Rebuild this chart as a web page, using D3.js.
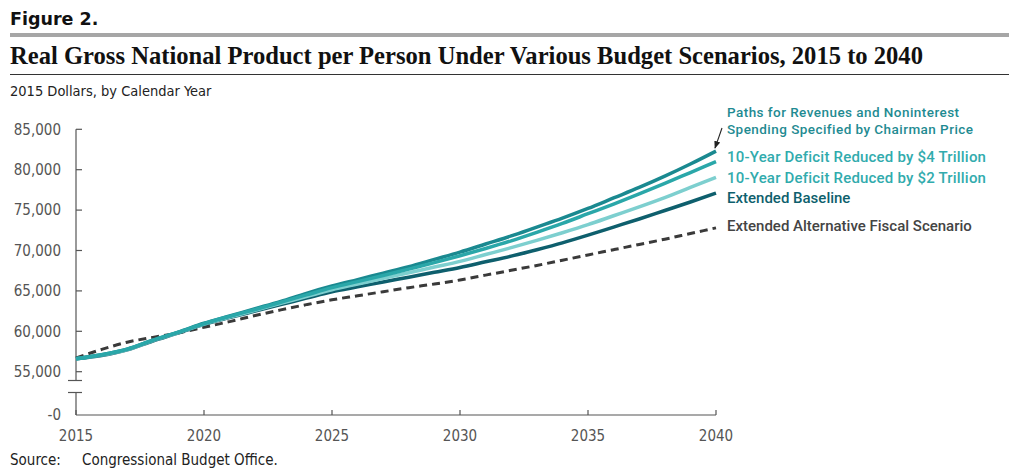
<!DOCTYPE html>
<html>
<head>
<meta charset="utf-8">
<script src="https://cdnjs.cloudflare.com/ajax/libs/d3/7.8.5/d3.min.js"></script>
<style>
  html, body { margin: 0; padding: 0; background: #fff; }
  svg { display: block; }
</style>
</head>
<body>
<svg id="chart" width="1024" height="471"></svg>
<script>
// ---- data ----
const years = d3.range(2015, 2041);
const priceSeries =    [56600,57100,57800,58900,59900,61000,61900,62800,63700,64700,65600,66400,67200,68000,68900,69800,70800,71800,72900,74000,75200,76500,77800,79200,80700,82300];
const cut4Series =     [56600,57100,57800,58900,59900,60950,61850,62700,63600,64500,65400,66150,66900,67700,68500,69350,70250,71200,72250,73350,74550,75750,77000,78300,79650,81000];
const cut2Series =     [56600,57050,57750,58850,59850,60900,61750,62600,63450,64300,65150,65850,66550,67250,67950,68650,69500,70350,71250,72200,73200,74300,75400,76550,77800,79050];
const baselineSeries = [56600,57000,57700,58800,59800,60850,61700,62500,63300,64100,64900,65500,66100,66700,67300,67900,68600,69300,70100,70950,71900,72900,73900,74950,76000,77100];
const altSeries =      [56700,57750,58650,59250,59800,60500,61200,61950,62650,63300,63900,64400,64900,65400,65850,66350,66950,67550,68150,68800,69450,70100,70750,71400,72100,72800];
const yTicks = [55000, 60000, 65000, 70000, 75000, 80000, 85000];
const xTicks = [2015, 2020, 2025, 2030, 2035, 2040];
const labelTexts = {
  price: ["Paths for Revenues and Noninterest", "Spending Specified by Chairman Price"],
  cut4: "10-Year Deficit Reduced by $4 Trillion",
  cut2: "10-Year Deficit Reduced by $2 Trillion",
  baseline: "Extended Baseline",
  alt: "Extended Alternative Fiscal Scenario"
};

// ---- layout ----
const svg = d3.select("#chart");
const axisFont = "'Liberation Sans Narrow', 'DejaVu Sans Condensed', 'Liberation Sans', sans-serif";
const x = d3.scaleLinear().domain([2015, 2040]).range([76, 716]);
const y = d3.scaleLinear().domain([55000, 85000]).range([371.7, 129.3]);
const yBottom = 415;

// Header
svg.append("text").attr("x", 10).attr("y", 25)
  .attr("font-family", "'DejaVu Sans', sans-serif").attr("font-weight", 900)
  .attr("font-size", 17.5).attr("fill", "#111").text("Figure 2.");
svg.append("rect").attr("x", 10).attr("y", 33).attr("width", 999).attr("height", 4).attr("fill", "#a6a6a6");
svg.append("text").attr("x", 10).attr("y", 64)
  .attr("font-family", "'Liberation Serif', 'Times New Roman', serif").attr("font-weight", "bold")
  .attr("font-size", 24.6).attr("fill", "#111")
  .text("Real Gross National Product per Person Under Various Budget Scenarios, 2015 to 2040");
svg.append("line").attr("x1", 10).attr("x2", 1009).attr("y1", 74.5).attr("y2", 74.5)
  .attr("stroke", "#333").attr("stroke-width", 1);
svg.append("text").attr("x", 10).attr("y", 96)
  .attr("font-family", axisFont).attr("font-size", 14.5).attr("fill", "#222")
  .text("2015 Dollars, by Calendar Year");

// Y axis (with break)
const gy = svg.append("g");
gy.append("line").attr("x1", 76).attr("x2", 76).attr("y1", y(85000)).attr("y2", 380.5)
  .attr("stroke", "#555").attr("stroke-width", 1.2);
gy.append("line").attr("x1", 76).attr("x2", 76).attr("y1", 392.5).attr("y2", yBottom)
  .attr("stroke", "#555").attr("stroke-width", 1.2);
[380.5, 392.5].forEach(v => gy.append("line").attr("x1", 68).attr("x2", 82).attr("y1", v).attr("y2", v)
  .attr("stroke", "#555").attr("stroke-width", 1.2));
gy.selectAll(".yt").data(yTicks).enter().append("line")
  .attr("x1", 76).attr("x2", 82).attr("y1", d => y(d)).attr("y2", d => y(d))
  .attr("stroke", "#555").attr("stroke-width", 1.2);
gy.selectAll(".yl").data(yTicks).enter().append("text")
  .attr("x", 61).attr("y", d => y(d)).attr("dy", "0.35em").attr("text-anchor", "end")
  .attr("font-family", axisFont).attr("font-size", 15).attr("fill", "#555")
  .text(d => d3.format(",")(d));
gy.append("text").attr("x", 61).attr("y", yBottom).attr("dy", "0.35em").attr("text-anchor", "end")
  .attr("font-family", axisFont).attr("font-size", 15).attr("fill", "#555").text("-0");

// X axis
const gx = svg.append("g");
gx.append("line").attr("x1", 76).attr("x2", 716).attr("y1", yBottom).attr("y2", yBottom)
  .attr("stroke", "#555").attr("stroke-width", 1.2);
gx.selectAll(".xt").data(xTicks).enter().append("line")
  .attr("x1", d => x(d)).attr("x2", d => x(d)).attr("y1", yBottom).attr("y2", yBottom - 5)
  .attr("stroke", "#555").attr("stroke-width", 1.2);
gx.selectAll(".xl").data(xTicks).enter().append("text")
  .attr("x", d => x(d)).attr("y", 441).attr("text-anchor", "middle")
  .attr("font-family", axisFont).attr("font-size", 15).attr("fill", "#555")
  .text(d => d);

// Lines
const line = d3.line().x((d, i) => x(years[i])).y(d => y(d)).curve(d3.curveMonotoneX);
const series = [
  { key: "alt", data: altSeries, color: "#3a3a3a", width: 3, dash: "8,5" },
  { key: "baseline", data: baselineSeries, color: "#0e5f6d", width: 3.5 },
  { key: "cut2", data: cut2Series, color: "#7dcfcf", width: 3.5 },
  { key: "price", data: priceSeries, color: "#1a8990", width: 3.5 },
  { key: "cut4", data: cut4Series, color: "#2aa7a9", width: 3.5 }
];
svg.append("g").selectAll("path").data(series).enter().append("path")
  .attr("d", d => line(d.data)).attr("fill", "none")
  .attr("stroke", d => d.color).attr("stroke-width", d => d.width)
  .attr("stroke-dasharray", d => d.dash || null);

// Labels
const labelFont = "Roboto, 'Liberation Sans', sans-serif";
const lx = 727;
const lab = svg.append("g").attr("font-family", labelFont).attr("font-weight", 500).attr("font-size", 15);
lab.append("text").attr("x", lx).attr("y", 117).attr("font-size", 13.5).attr("letter-spacing", 0.45).attr("fill", "#1f8b92").text(labelTexts.price[0]);
lab.append("text").attr("x", lx).attr("y", 133.5).attr("font-size", 13.5).attr("letter-spacing", 0.45).attr("fill", "#1f8b92").text(labelTexts.price[1]);
lab.append("text").attr("x", lx).attr("y", 157).attr("dy", "0.35em").attr("fill", "#31abad").attr("letter-spacing", 0.2).text(labelTexts.cut4);
lab.append("text").attr("x", lx).attr("y", 177.5).attr("dy", "0.35em").attr("fill", "#31abad").attr("letter-spacing", 0.2).text(labelTexts.cut2);
lab.append("text").attr("x", lx).attr("y", 198).attr("dy", "0.35em").attr("fill", "#0e5f6d").text(labelTexts.baseline);
lab.append("text").attr("x", lx).attr("y", 226).attr("dy", "0.35em").attr("fill", "#444").text(labelTexts.alt);

// Arrow
const defs = svg.append("defs");
defs.append("marker").attr("id", "ah").attr("viewBox", "0 0 10 10").attr("refX", 9).attr("refY", 5)
  .attr("markerWidth", 7).attr("markerHeight", 7).attr("orient", "auto-start-reverse")
  .append("path").attr("d", "M0,1 L10,5 L0,9 Z").attr("fill", "#222");
svg.append("line").attr("x1", 722).attr("y1", 128).attr("x2", x(2040) - 1).attr("y2", y(priceSeries[priceSeries.length - 1]) - 3)
  .attr("stroke", "#222").attr("stroke-width", 1.1).attr("marker-end", "url(#ah)");

// Source
svg.append("text").attr("x", 10).attr("y", 465)
  .attr("font-family", axisFont).attr("font-size", 15).attr("fill", "#222").text("Source:");
svg.append("text").attr("x", 82).attr("y", 465)
  .attr("font-family", axisFont).attr("font-size", 15).attr("fill", "#222").text("Congressional Budget Office.");
</script>
</body>
</html>
